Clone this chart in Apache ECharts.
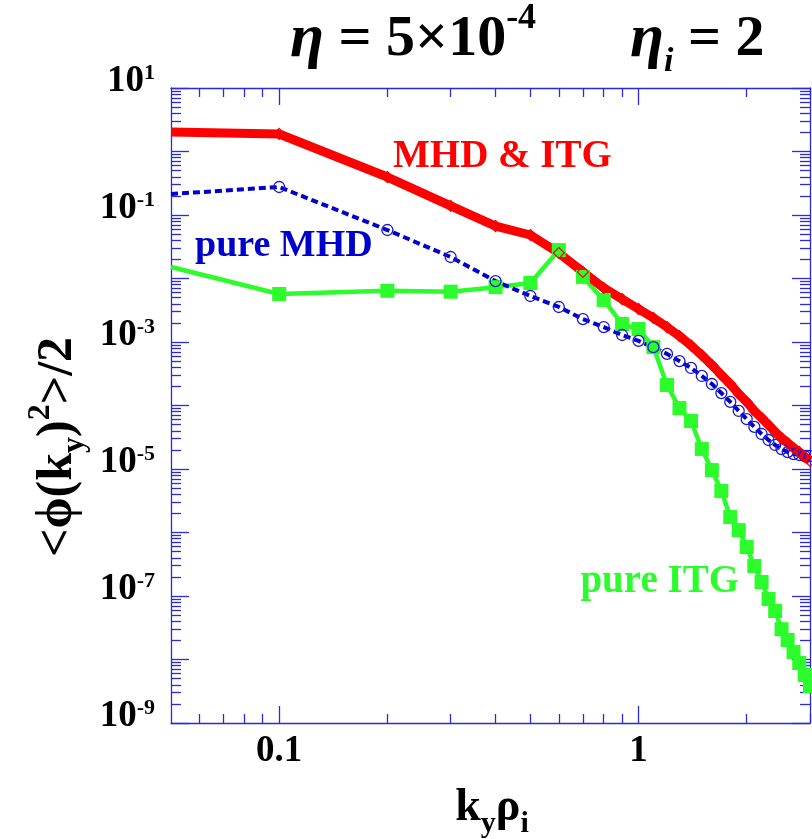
<!DOCTYPE html>
<html><head><meta charset="utf-8">
<script src="https://cdn.jsdelivr.net/npm/echarts@6/dist/echarts.min.js"></script>
<style>html,body{margin:0;padding:0;background:#fff}#c{width:812px;height:839px}</style>
</head><body><div id="c"></div>
<script>
// ---- data ----
const kyRho = [0.05, 0.1, 0.2, 0.3, 0.4, 0.5, 0.6, 0.7, 0.8, 0.9,
  1.0, 1.1, 1.2, 1.3, 1.4, 1.5, 1.6, 1.7, 1.8, 1.9,
  2.0, 2.1, 2.2, 2.3, 2.4, 2.5, 2.6, 2.7, 2.8, 2.9, 3.0];
const mhdItg = [2.03, 1.89, 0.396, 0.139, 0.067, 0.0484, 0.0252, 0.0127, 7.1e-3, 4.75e-3,
  3.31e-3, 2.39e-3, 1.72e-3, 1.24e-3, 8.8e-4, 6.2e-4, 4.35e-4, 3.02e-4, 2.18e-4, 1.52e-4,
  1.14e-4, 8.2e-5, 6.35e-5, 4.93e-5, 3.83e-5, 3.08e-5, 2.57e-5, 2.14e-5, 1.85e-5, 1.55e-5, 1.34e-5];
const pureMhd = [0.214, 0.276, 0.058, 0.0218, 9.1e-3, 5.3e-3, 3.56e-3, 2.3e-3, 1.72e-3, 1.29e-3,
  1.04e-3, 8.3e-4, 6.5e-4, 5.0e-4, 3.9e-4, 2.92e-4, 2.18e-4, 1.57e-4, 1.14e-4, 8.2e-5,
  6.1e-5, 4.6e-5, 3.56e-5, 2.86e-5, 2.39e-5, 2.06e-5, 1.85e-5, 1.72e-5, 1.66e-5, 1.6e-5, 1.6e-5];
const pureItg = [1.52e-2, 5.7e-3, 6.4e-3, 6.2e-3, 7.3e-3, 8.5e-3, 2.8e-2, 1.06e-2, 4.6e-3, 1.92e-3,
  1.6e-3, 8.3e-4, 2.1e-4, 9.1e-5, 5.7e-5, 2.07e-5, 9.6e-6, 4.5e-6, 1.75e-6, 1.09e-6,
  5.9e-7, 2.97e-7, 1.66e-7, 8.97e-8, 5.8e-8, 3.0e-8, 2.03e-8, 1.31e-8, 8.8e-9, 5.7e-9, 3.8e-9];

const xMin = 0.05, xMax = 3, yMin = 1e-9, yMax = 10;
const xMajorTicks = [0.1, 1];
const xTickLabels = ['0.1', '1'];
const xMinorTicks = [0.06, 0.07, 0.08, 0.09, 0.2, 0.3, 0.4, 0.5, 0.6, 0.7, 0.8, 0.9, 2, 3];
const yDecades = [-9, -8, -7, -6, -5, -4, -3, -2, -1, 0, 1];
const yLabelExponents = [-9, -7, -5, -3, -1, 1];
const yMinorMantissas = [2, 3, 4, 5, 6, 7, 8, 9];

const titleLeft = '{e|η}{n| = 5×10}{s|-4}';
const titleRight = '{e|η}{i|i}{n| = 2}';
const yName = '{n|<ϕ(k}{b|y}{n|)}{t|2}{n|>/2}';
const xName = '{n|k}{b|y}{n|ρ}{b|i}';
const seriesNames = ['pure ITG', 'pure MHD', 'MHD & ITG'];

// ---- helpers ----
const LX = Math.log10;
const AX = '#2b2bd6';
const FF = 'Liberation Serif';
const yMinorTicks = [];
yDecades.slice(0, -1).forEach(d => yMinorMantissas.forEach(m => yMinorTicks.push(d + LX(m))));

function pairs(vals) {
  return kyRho.map((k, i) => (i === 0 ? { value: [k, vals[i]], symbol: 'none' } : [k, vals[i]]));
}
function xTickAxis(pos, vals, len, withLine, withLabels) {
  return {
    type: 'value', min: LX(xMin), max: LX(xMax), position: pos,
    axisLine: { show: withLine, onZero: false, lineStyle: { color: AX, width: 1.3 } },
    axisTick: { show: true, inside: true, length: len, customValues: vals, lineStyle: { color: AX, width: 1.3 } },
    axisLabel: withLabels ? {
      show: true, customValues: xMajorTicks.map(LX), margin: 10,
      fontFamily: FF, fontWeight: 'bold', fontSize: 37, color: '#000',
      formatter: v => xTickLabels[xMajorTicks.findIndex(t => Math.abs(LX(t) - v) < 1e-6)]
    } : { show: false },
    splitLine: { show: false }
  };
}
function yTickAxis(pos, vals, len, withLine, withLabels) {
  return {
    type: 'value', min: LX(yMin), max: LX(yMax), position: pos,
    axisLine: { show: withLine, onZero: false, lineStyle: { color: AX, width: 1.3 } },
    axisTick: { show: true, inside: true, length: len, customValues: vals, lineStyle: { color: AX, width: 1.3 } },
    axisLabel: withLabels ? {
      show: true, customValues: yLabelExponents, margin: 16,
      formatter: v => '{b|10}{s|' + Math.round(v) + '}',
      rich: {
        b: { fontFamily: FF, fontWeight: 'bold', fontSize: 37, color: '#000', padding: [0, 0, 14, 0] },
        s: { fontFamily: FF, fontWeight: 'bold', fontSize: 22, color: '#000', verticalAlign: 'top' }
      }
    } : { show: false },
    splitLine: { show: false }
  };
}
const titleRich = {
  e: { fontFamily: FF, fontStyle: 'italic', fontWeight: 'bold', fontSize: 62, fill: '#000', lineHeight: 78 },
  n: { fontFamily: FF, fontWeight: 'bold', fontSize: 58, fill: '#000', lineHeight: 78 },
  s: { fontFamily: FF, fontWeight: 'bold', fontSize: 36, fill: '#000', verticalAlign: 'top' },
  i: { fontFamily: FF, fontStyle: 'italic', fontWeight: 'bold', fontSize: 34, fill: '#000', verticalAlign: 'bottom' }
};

const chart = echarts.init(document.getElementById('c'), null, { renderer: 'canvas' });
chart.setOption({
  backgroundColor: '#fff',
  animation: false,
  grid: { left: 171, top: 88, width: 639, height: 635, containLabel: false, outerBoundsMode: 'none' },
  xAxis: [
    { type: 'log', logBase: 10, min: xMin, max: xMax, show: false },
    xTickAxis('bottom', xMajorTicks.map(LX), 17, true, true),
    xTickAxis('bottom', xMinorTicks.map(LX), 9, false, false),
    xTickAxis('top', xMajorTicks.map(LX), 17, true, false),
    xTickAxis('top', xMinorTicks.map(LX), 9, false, false)
  ],
  yAxis: [
    { type: 'log', logBase: 10, min: yMin, max: yMax, show: false },
    yTickAxis('left', yDecades, 18, true, true),
    yTickAxis('left', yMinorTicks, 10, false, false),
    yTickAxis('right', yDecades, 18, true, false),
    yTickAxis('right', yMinorTicks, 10, false, false)
  ],
  series: [
    {
      name: seriesNames[0], type: 'line', data: pairs(pureItg), xAxisIndex: 0, yAxisIndex: 0,
      symbol: 'rect', symbolSize: 14,
      itemStyle: { color: '#2cfc2c' },
      lineStyle: { color: '#2cfc2c', width: 4.5 }
    },
    {
      name: seriesNames[1], type: 'line', data: pairs(pureMhd), xAxisIndex: 0, yAxisIndex: 0,
      symbol: 'circle', symbolSize: 11,
      itemStyle: { color: 'rgba(0,0,0,0)', borderColor: '#1818d0', borderWidth: 1.3 },
      lineStyle: { color: '#0000cc', width: 4, type: [7, 4] }
    },
    {
      name: seriesNames[2], type: 'line', data: pairs(mhdItg), xAxisIndex: 0, yAxisIndex: 0,
      symbol: 'diamond', symbolSize: 11,
      itemStyle: { color: 'rgba(0,0,0,0)', borderColor: '#ff0000', borderWidth: 1.2 },
      lineStyle: { color: '#ff0000', width: 9 }
    }
  ],
  graphic: [
    { type: 'text', x: 290, y: 40, style: { text: titleLeft, align: 'left', verticalAlign: 'middle', rich: titleRich } },
    { type: 'text', x: 630, y: 40, style: { text: titleRight, align: 'left', verticalAlign: 'middle', rich: titleRich } },
    { type: 'text', x: 393, y: 157, style: { text: seriesNames[2], fill: '#ff0000', fontFamily: FF, fontWeight: 'bold', fontSize: 39, align: 'left', verticalAlign: 'middle' } },
    { type: 'text', x: 195, y: 246, style: { text: seriesNames[1], fill: '#0000cc', fontFamily: FF, fontWeight: 'bold', fontSize: 38, align: 'left', verticalAlign: 'middle' } },
    { type: 'text', x: 739, y: 582, style: { text: seriesNames[0], fill: '#2cfc2c', fontFamily: FF, fontWeight: 'bold', fontSize: 39, align: 'right', verticalAlign: 'middle' } },
    { type: 'text', x: 58, y: 447, rotation: Math.PI / 2, style: { text: yName, align: 'center', verticalAlign: 'middle',
      rich: {
        n: { fontFamily: FF, fontWeight: 'bold', fontSize: 50, fill: '#000', lineHeight: 66 },
        b: { fontFamily: FF, fontWeight: 'bold', fontSize: 32, fill: '#000', verticalAlign: 'bottom' },
        t: { fontFamily: FF, fontWeight: 'bold', fontSize: 32, fill: '#000', verticalAlign: 'top' }
      } } },
    { type: 'text', x: 492, y: 808, style: { text: xName, align: 'center', verticalAlign: 'middle',
      rich: {
        n: { fontFamily: FF, fontWeight: 'bold', fontSize: 46, fill: '#000', lineHeight: 62 },
        b: { fontFamily: FF, fontWeight: 'bold', fontSize: 30, fill: '#000', verticalAlign: 'bottom' }
      } } }
  ]
});
</script></body></html>
